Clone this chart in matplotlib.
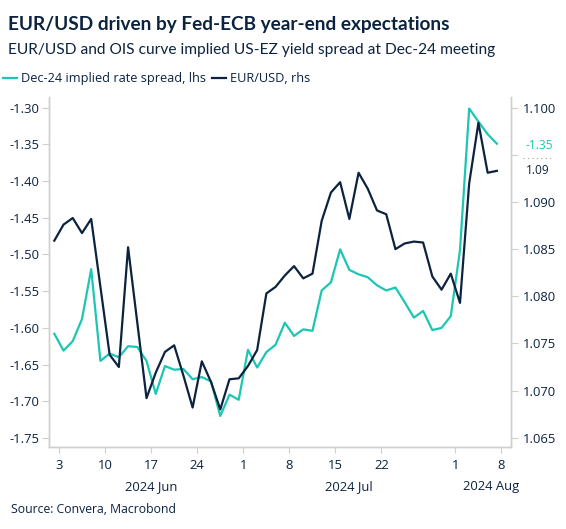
import numpy as np
import pandas as pd
import matplotlib
matplotlib.use("Agg")
import matplotlib.pyplot as plt
import matplotlib.transforms as mtransforms
from matplotlib.lines import Line2D

plt.rcParams['font.family'] = ['Open Sans', 'DejaVu Sans']
plt.rcParams['axes.unicode_minus'] = False

navy = '#0c2340'
teal = '#1cc6b3'
grey = '#cfcfcf'

# business days, 3 Jun - 8 Aug 2024
dates = pd.bdate_range('2024-06-03', '2024-08-08')

spread = [-1.608, -1.631, -1.618, -1.588, -1.520, -1.645, -1.635, -1.640, -1.625, -1.626,
          -1.645, -1.690, -1.652, -1.657, -1.656, -1.670, -1.667, -1.673, -1.720, -1.691,
          -1.698, -1.630, -1.654, -1.633, -1.623, -1.593, -1.611, -1.602, -1.604, -1.549,
          -1.538, -1.493, -1.521, -1.527, -1.531, -1.542, -1.549, -1.545, -1.565, -1.586,
          -1.577, -1.603, -1.600, -1.584, -1.494, -1.301, -1.319, -1.336, -1.349]

eurusd = [1.0859, 1.0876, 1.0883, 1.0867, 1.0882, 1.0810, 1.0738, 1.0725, 1.0852, 1.0772,
          1.0692, 1.0719, 1.0741, 1.0748, 1.0716, 1.0682, 1.0731, 1.0709, 1.0680, 1.0712,
          1.0713, 1.0726, 1.0743, 1.0803, 1.0810, 1.0822, 1.0832, 1.0819, 1.0824, 1.0880,
          1.0910, 1.0921, 1.0882, 1.0931, 1.0914, 1.0891, 1.0887, 1.0850, 1.0856, 1.0858,
          1.0857, 1.0821, 1.0807, 1.0824, 1.0793, 1.0920, 1.0984, 1.0931, 1.0933]

tick_dates = ['2024-06-03', '2024-06-10', '2024-06-17', '2024-06-24', '2024-07-01',
              '2024-07-08', '2024-07-15', '2024-07-22', '2024-08-01', '2024-08-08']
tick_labels = ['3', '10', '17', '24', '1', '8', '15', '22', '1', '8']

month_labels = ['2024 Jun', '2024 Jul', '2024 Aug']
month_dates = ['2024-06-17', '2024-07-17', '2024-08-07']

left_ticks = [-1.30, -1.35, -1.40, -1.45, -1.50, -1.55, -1.60, -1.65, -1.70, -1.75]
right_ticks = [1.065, 1.070, 1.075, 1.080, 1.085, 1.090, 1.095, 1.100]

start = '2024-06-03'
x = np.busday_count(start, dates.values.astype('datetime64[D]'))
tx = np.busday_count(start, np.array(tick_dates, dtype='datetime64[D]')) + 0.48
mx = np.busday_count(start, np.array(month_dates, dtype='datetime64[D]'))
mx = mx + np.array([0.5, 0.0, 0.4])

fig = plt.figure(figsize=(5.66, 5.29), dpi=100)
ax = fig.add_axes([0.0866, 0.1556, 0.8157, 0.661])
ax2 = ax.twinx()

ax.plot(x, spread, color=teal, lw=1.6)
ax2.plot(x, eurusd, color=navy, lw=1.6)

ax.set_xlim(-0.575, 49.5)
ax.set_ylim(-1.7619, -1.2854)
ax2.set_ylim(1.06405, 1.10113)

ax.set_yticks(left_ticks)
ax.set_yticklabels(['%.2f' % v for v in left_ticks])
ax2.set_yticks(right_ticks)
ax2.set_yticklabels(['' if abs(v - 1.095) < 1e-9 else '%.3f' % v for v in right_ticks])
ax.set_xticks(tx)
ax.set_xticklabels(tick_labels)

for a in (ax, ax2):
    a.spines['top'].set_visible(False)
    for s in ('left', 'right', 'bottom'):
        a.spines[s].set_color(grey)
        a.spines[s].set_linewidth(1.0)
ax.tick_params(axis='y', length=5, color=grey, labelcolor=navy, labelsize=9.4, pad=2)
ax.tick_params(axis='x', length=4, color=grey, labelcolor=navy, labelsize=9.4, pad=5)
ax2.tick_params(axis='y', length=5, color=grey, labelcolor=navy, labelsize=9.4, pad=4)

# month labels under the day ticks
trans = mtransforms.blended_transform_factory(ax.transData, ax.transAxes)
for m, lab in zip(mx, month_labels):
    ax.text(m, -0.114, lab, transform=trans, ha='center', va='center',
            fontsize=9.4, color=navy)

# last value labels on the right
t1 = mtransforms.blended_transform_factory(ax.transAxes, ax.transData)
t2 = mtransforms.blended_transform_factory(ax2.transAxes, ax2.transData)
ax.text(1.033, spread[-1] - 0.003, '%.2f' % spread[-1], transform=t1, color=teal,
        fontsize=8.6, va='center', ha='left', clip_on=False)
ax2.text(1.033, eurusd[-1], '%.2f' % eurusd[-1], transform=t2, color=navy,
         fontsize=8.6, va='center', ha='left', clip_on=False)
ax2.plot([1.027, 1.092], [1.0947, 1.0947], transform=t2, color='#a0a0a0',
         lw=0.8, ls=(0, (1, 3)), clip_on=False)

fig.text(0.014, 0.9546, 'EUR/USD driven by Fed-ECB year-end expectations',
         fontsize=13.7, weight='bold', color=navy, va='center', family=['Lato', 'DejaVu Sans'])
fig.text(0.014, 0.9055, 'EUR/USD and OIS curve implied US-EZ yield spread at Dec-24 meeting',
         fontsize=11.2, color=navy, va='center', family=['Lato', 'DejaVu Sans'])

handles = [Line2D([], [], color=teal, lw=1.6), Line2D([], [], color=navy, lw=1.6)]
leg = fig.legend(handles, ['Dec-24 implied rate spread, lhs', 'EUR/USD, rhs'],
                 loc='center left', bbox_to_anchor=(0.005, 0.8507), ncol=2,
                 frameon=False, fontsize=9.2, handlelength=1.1, handletextpad=0.3,
                 columnspacing=0.5, borderpad=0, borderaxespad=0)
for t in leg.get_texts():
    t.set_color(navy)

fig.text(0.019, 0.036, 'Source: Convera, Macrobond', fontsize=8.8, color=navy, va='center')

fig.savefig('out.png', dpi=100)
